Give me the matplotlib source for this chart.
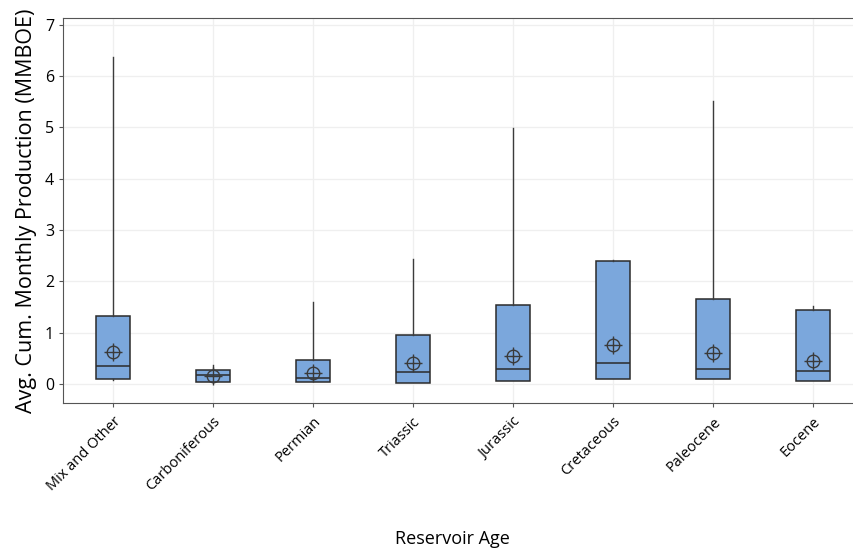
import matplotlib.pyplot as plt
import numpy as np

ages = ["Mix and Other", "Carboniferous", "Permian", "Triassic",
        "Jurassic", "Cretaceous", "Paleocene", "Eocene"]
whisker_low = [0.07, 0.03, 0.03, 0.02, 0.06, 0.10, 0.10, 0.06]
q1 = [0.10, 0.04, 0.04, 0.02, 0.06, 0.10, 0.10, 0.06]
median = [0.35, 0.17, 0.12, 0.23, 0.29, 0.41, 0.29, 0.25]
q3 = [1.32, 0.28, 0.47, 0.95, 1.54, 2.40, 1.66, 1.44]
whisker_high = [6.37, 0.37, 1.60, 2.43, 4.98, 2.42, 5.52, 1.52]
mean = [0.63, 0.16, 0.22, 0.41, 0.55, 0.76, 0.60, 0.45]

plt.rcParams['font.family'] = ['Open Sans', 'DejaVu Sans']

fig = plt.figure(figsize=(8.54, 5.51), dpi=100)
ax = fig.add_axes([0.0738, 0.2686, 0.95, 0.6987])

stats = []
for i in range(len(ages)):
    stats.append(dict(label=ages[i], whislo=whisker_low[i], q1=q1[i], med=median[i],
                      q3=q3[i], whishi=whisker_high[i], mean=mean[i], fliers=[]))

pos = np.arange(len(ages))
ax.bxp(stats, positions=pos, widths=0.34, patch_artist=True, showcaps=False,
       showmeans=False, showfliers=False,
       boxprops=dict(facecolor='#7BA7DC', edgecolor='#2b2b2b', linewidth=1.1),
       medianprops=dict(color='#2b2b2b', linewidth=1.1),
       whiskerprops=dict(color='#3c3c3c', linewidth=1.0))

# mean symbol: open circle with a crosshair
ax.plot(pos, mean, linestyle='none', marker='o', ms=9, mfc='none', mec='#3a3a3a', mew=1.0, zorder=5)
ax.plot(pos, mean, linestyle='none', marker='+', ms=13, mec='#3a3a3a', mew=1.0, zorder=5)

ax.set_xlim(-0.5, 7.61)
ax.set_ylim(-0.37, 7.13)
ax.set_yticks(range(0, 8))
ax.set_xticks(pos)
ax.set_xticklabels(ages, rotation=45, ha='right', rotation_mode='anchor', fontsize=10.5)
ax.tick_params(axis='y', labelsize=11.5, length=3, color='#555555')
ax.tick_params(axis='x', length=3, color='#555555', pad=5)
ax.grid(True, color='#efefef', linewidth=0.9)
ax.set_axisbelow(True)
for side in ['left', 'bottom', 'top']:
    ax.spines[side].set_color('#555555')
ax.spines['right'].set_visible(False)

ax.set_ylabel("Avg. Cum. Monthly Production (MMBOE)", fontsize=15.5, labelpad=6)
fig.text(0.53, 0.012, "Reservoir Age", ha='center', fontsize=13)

fig.savefig("out.png", dpi=100)
